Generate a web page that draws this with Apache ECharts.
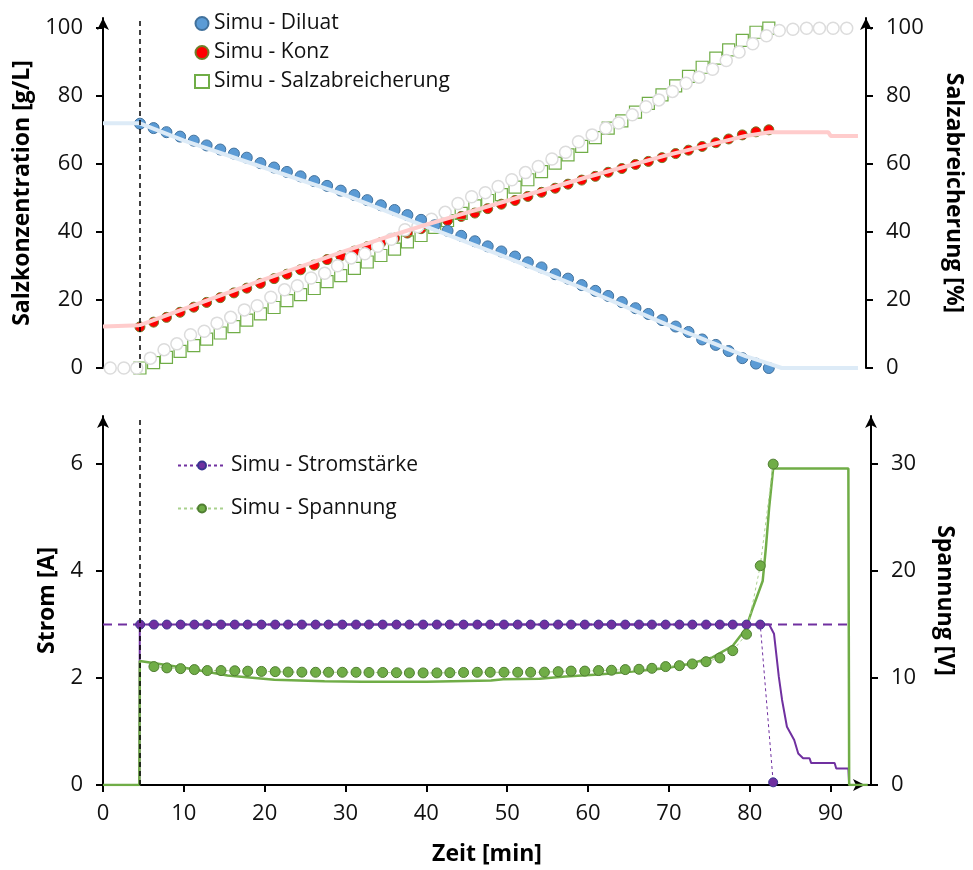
<!DOCTYPE html>
<html>
<head>
<meta charset="utf-8">
<script src="https://cdn.jsdelivr.net/npm/echarts@6/dist/echarts.min.js"></script>
<style>
  body { margin: 0; background: #fff; }
  #main { width: 973px; height: 870px; }
</style>
</head>
<body>
<div id="main"></div>
<script>
// Zeitpunkte der Simulation (alle ~100 s)
var simuTime = [4.6, 6.3, 7.9, 9.6, 11.3, 12.9, 14.6, 16.3, 17.9, 19.6, 21.3, 22.9, 24.6, 26.3, 27.9, 29.6,
  31.3, 32.9, 34.6, 36.3, 37.9, 39.6, 41.3, 42.9, 44.6, 46.3, 47.9, 49.6, 51.3, 52.9, 54.6, 56.3,
  57.9, 59.6, 61.3, 62.9, 64.6, 66.3, 67.9, 69.6, 71.3, 72.9, 74.6, 76.3, 77.9, 79.6, 81.3, 82.9];

var diluatSimu = [71.9, 70.6, 69.4, 68.1, 66.9, 65.5, 64.3, 63.1, 61.9, 60.3, 59.0, 57.7, 56.4, 55.0, 53.6, 52.2,
  50.9, 49.4, 47.9, 46.5, 45.0, 43.6, 42.0, 40.4, 38.9, 37.3, 35.8, 34.3, 32.8, 31.1, 29.6, 27.6,
  26.3, 24.4, 22.7, 21.2, 19.4, 17.6, 15.9, 14.1, 12.2, 10.6, 8.4, 6.8, 5.0, 2.9, 1.3, 0];

var konzSimu = [12.1, 13.5, 14.9, 16.4, 17.9, 19.3, 20.7, 22.1, 23.5, 24.9, 26.3, 27.6, 28.9, 30.3, 31.9, 33.0,
  34.4, 35.7, 36.9, 38.2, 39.7, 41.0, 42.3, 43.4, 44.6, 45.6, 46.9, 48.2, 49.3, 50.5, 51.7, 52.9,
  54.1, 55.3, 56.4, 57.6, 58.7, 59.9, 60.8, 61.9, 63.1, 64.1, 65.2, 66.3, 67.4, 68.6, 69.5, 70.1];

var abreicherungSimu = [0, 1.6, 3.1, 4.9, 6.6, 8.5, 10.3, 12.2, 14.1, 15.9, 17.8, 19.8, 21.6, 23.4, 25.4, 27.2,
  29.3, 31.2, 33.1, 35.0, 37.1, 39.0, 41.4, 43.4, 45.5, 47.7, 49.3, 51.0, 53.2, 55.4, 57.8, 60.3,
  62.7, 65.2, 67.8, 70.6, 72.7, 75.3, 77.9, 80.4, 83.0, 85.8, 88.5, 91.2, 93.6, 96.4, 98.8, 100];

var stromSimu = [3, 3, 3, 3, 3, 3, 3, 3, 3, 3, 3, 3, 3, 3, 3, 3,
  3, 3, 3, 3, 3, 3, 3, 3, 3, 3, 3, 3, 3, 3, 3, 3,
  3, 3, 3, 3, 3, 3, 3, 3, 3, 3, 3, 3, 3, 3, 3, 0.05];

var spannungSimu = ['-', 11.07, 10.95, 10.88, 10.79, 10.70, 10.70, 10.68, 10.64, 10.62, 10.60, 10.56, 10.55, 10.54, 10.54, 10.54,
  10.54, 10.52, 10.52, 10.50, 10.48, 10.48, 10.48, 10.50, 10.52, 10.54, 10.54, 10.54, 10.54, 10.54, 10.55, 10.60,
  10.65, 10.65, 10.70, 10.73, 10.79, 10.82, 10.91, 11.07, 11.16, 11.32, 11.53, 11.88, 12.56, 14.1, 20.5, 30];

// Messwerte
var messTime = [0.9, 2.6, 4.2, 5.9, 7.6, 9.2, 10.9, 12.6, 14.2, 15.9, 17.6, 19.2, 20.9, 22.6, 24.2, 25.9,
  27.6, 29.2, 30.9, 32.6, 34.2, 35.9, 37.6, 39.2, 40.9, 42.6, 44.2, 45.9, 47.6, 49.2, 50.9, 52.6,
  54.2, 55.9, 57.6, 59.2, 60.9, 62.6, 64.2, 65.9, 67.6, 69.2, 70.9, 72.6, 74.2, 75.9, 77.6, 79.2,
  80.9, 82.6, 84.2, 85.9, 87.6, 89.2, 90.9, 92.6];
var abreicherungMess = [0, 0, 0, 2.9, 5.4, 7.1, 9.8, 10.8, 13.2, 14.9, 17.1, 18.3, 20.8, 23.0, 24.2, 26.5,
  27.9, 30.1, 32.4, 33.6, 35.8, 37.9, 40.7, 41.6, 43.8, 45.8, 48.4, 50.4, 51.6, 53.4, 55.4, 57.5,
  59.3, 61.5, 63.5, 66.6, 68.6, 70.6, 72.1, 74.5, 76.9, 78.9, 81.4, 83.8, 85.6, 87.9, 90.5, 93.0,
  95.4, 97.8, 99.3, 99.7, 100, 100, 100, 100];

var diluatMessT = [0, 4.6, 10, 20, 30, 40, 50, 60, 70, 80, 83, 84.5, 94];
var diluatMessV = [72, 72, 67, 59, 51, 41.8, 32.8, 23.2, 13, 3.5, 1.2, 0, 0];

var konzMessT = [0, 4.6, 10, 20, 30, 35, 40, 45, 50, 60, 70, 80, 83, 90.3, 90.6, 94];
var konzMessV = [12.2, 12.6, 17.3, 26, 34.3, 38.3, 42, 45.5, 49, 56, 62.5, 68.3, 69.4, 69.4, 68.3, 68.3];

var spannungMessT = [0, 4.5, 4.55, 6.2, 10.8, 15.4, 21.2, 27.4, 32, 40, 48, 49.5, 54, 57.2, 61.3, 65.5,
  69.6, 72.5, 75.4, 77.9, 79.5, 80.4, 81.6, 82.0, 82.4, 82.9, 92.2, 92.3, 94.6];
var spannungMessV = [0, 0, 11.6, 11.4, 10.86, 10.23, 9.83, 9.7, 9.65, 9.65, 9.77, 9.89, 9.93, 10.14, 10.33, 10.6,
  10.91, 11.32, 11.93, 13.02, 14.58, 16.6, 19.07, 22.2, 25.9, 29.6, 29.6, 0, 0];

var stromMessT = [0, 4.5, 4.55, 82.4, 83, 83.6, 84, 84.6, 85.5, 86, 86.6, 87.4, 87.6, 90.5, 90.7, 92.2, 92.3];
var stromMessV = [0, 0, 3, 3, 2.83, 2.02, 1.59, 1.09, 0.84, 0.59, 0.5, 0.5, 0.41, 0.41, 0.31, 0.31, 0];

var stromSollT = [0, 92.6];
var stromSollV = [3, 3];

var startZeit = 4.6;

// Achsenbeschriftung
var xTicks = [0, 10, 20, 30, 40, 50, 60, 70, 80, 90];
var salzTicks = [0, 20, 40, 60, 80, 100];
var stromTicks = [0, 2, 4, 6];
var spannungTicks = [0, 10, 20, 30];

function pairs(t, v) {
  return t.map(function (x, i) { return [x, v[i]]; });
}

var FONT = 'Open Sans';
var purple = '#7030A0';
var green = '#70AD47';

function yAchse(grid, pos, min, max, ticks, name, gap) {
  return {
    type: 'value', gridIndex: grid, position: pos, min: min, max: max,
    name: name, nameLocation: 'middle', nameGap: gap, nameRotate: pos === 'left' ? 90 : -90,
    nameTextStyle: { fontFamily: FONT, fontSize: 23, fontWeight: 'bold', color: '#000' },
    axisLine: { show: true, onZero: false, lineStyle: { color: '#000', width: 2 }, symbol: ['none', 'arrow'], symbolSize: [9, 12] },
    axisTick: { show: true, length: 7, lineStyle: { color: '#000', width: 2 }, customValues: ticks },
    axisLabel: { fontFamily: FONT, fontSize: 22, color: '#111', margin: 20, customValues: ticks },
    splitLine: { show: false }
  };
}

var myChart = echarts.init(document.getElementById('main'));

var option = {
  animation: false,
  grid: [
    { left: 103, right: 102, top: 18, height: 350 },
    { left: 103, right: 102, top: 416, height: 369 }
  ],
  legend: [
    {
      orient: 'vertical', left: 189, top: 8, itemGap: 8, itemWidth: 14, itemHeight: 13,
      data: ['Simu - Diluat', 'Simu - Konz', 'Simu - Salzabreicherung'],
      textStyle: { fontFamily: FONT, fontSize: 21, color: '#111' }
    },
    {
      orient: 'vertical', left: 172, top: 450, itemGap: 22, itemWidth: 48, itemHeight: 10,
      data: ['Simu - Stromstärke', 'Simu - Spannung'],
      textStyle: { fontFamily: FONT, fontSize: 21, color: '#111' }
    }
  ],
  xAxis: [
    { type: 'value', gridIndex: 0, min: 0, max: 95, show: false },
    {
      type: 'value', gridIndex: 1, min: 0, max: 95,
      name: 'Zeit [min]', nameLocation: 'middle', nameGap: 58,
      nameTextStyle: { fontFamily: FONT, fontSize: 23, fontWeight: 'bold', color: '#000' },
      axisLine: { onZero: false, lineStyle: { color: '#000', width: 2 }, symbol: ['none', 'arrow'], symbolSize: [9, 12], symbolOffset: [0, -6] },
      axisTick: { length: 7, lineStyle: { color: '#000', width: 2 }, customValues: xTicks },
      axisLabel: { fontFamily: FONT, fontSize: 22, color: '#111', margin: 18, customValues: xTicks },
      splitLine: { show: false }
    }
  ],
  yAxis: [
    yAchse(0, 'left', 0, 103, salzTicks, 'Salzkonzentration [g/L]', 66),
    yAchse(0, 'right', 0, 103, salzTicks, 'Salzabreicherung [%]', 76),
    yAchse(1, 'left', 0, 6.9, stromTicks, 'Strom [A]', 44),
    yAchse(1, 'right', 0, 34.5, spannungTicks, 'Spannung [V]', 62)
  ],
  series: [
    {
      name: 'Diluat Messung', type: 'line', xAxisIndex: 0, yAxisIndex: 0,
      data: pairs(diluatMessT, diluatMessV), showSymbol: false,
      lineStyle: { color: '#DDEBF7', width: 4 },
      markLine: {
        silent: true, symbol: 'none', label: { show: false },
        lineStyle: { color: '#000', type: [5, 4], width: 1.5 },
        data: [{ xAxis: startZeit }]
      }
    },
    {
      name: 'Konz Messung', type: 'line', xAxisIndex: 0, yAxisIndex: 0,
      data: pairs(konzMessT, konzMessV), showSymbol: false,
      lineStyle: { color: '#FFCCCC', width: 4 }
    },
    {
      name: 'Simu - Konz', type: 'scatter', xAxisIndex: 0, yAxisIndex: 0,
      data: pairs(simuTime, konzSimu), symbol: 'circle', symbolSize: 10,
      itemStyle: { color: '#FF0000', borderColor: '#6f7f2a', borderWidth: 1, opacity: 1 }
    },
    {
      name: 'Simu - Salzabreicherung', type: 'scatter', xAxisIndex: 0, yAxisIndex: 1,
      data: pairs(simuTime, abreicherungSimu), symbol: 'rect', symbolSize: 12,
      itemStyle: { color: 'rgba(255,255,255,0)', borderColor: green, borderWidth: 1.2, opacity: 1 }
    },
    {
      name: 'Abreicherung Messung', type: 'scatter', xAxisIndex: 0, yAxisIndex: 1,
      data: pairs(messTime, abreicherungMess), symbol: 'circle', symbolSize: 12,
      itemStyle: { color: '#fff', borderColor: '#dcdcdc', borderWidth: 1.5, opacity: 1 }
    },
    {
      name: 'Simu - Diluat', type: 'scatter', xAxisIndex: 0, yAxisIndex: 0,
      data: pairs(simuTime, diluatSimu), symbol: 'circle', symbolSize: 11,
      itemStyle: { color: '#5B9BD5', borderColor: '#41719C', borderWidth: 1, opacity: 1 }
    },
    {
      name: 'Strom Soll', type: 'line', xAxisIndex: 1, yAxisIndex: 2,
      data: pairs(stromSollT, stromSollV), showSymbol: false,
      lineStyle: { color: purple, width: 2, type: [9, 6] },
      markLine: {
        silent: true, symbol: 'none', label: { show: false },
        lineStyle: { color: '#000', type: [5, 4], width: 1.5 },
        data: [{ xAxis: startZeit }]
      }
    },
    {
      name: 'Strom Messung', type: 'line', xAxisIndex: 1, yAxisIndex: 2,
      data: pairs(stromMessT, stromMessV), showSymbol: false,
      lineStyle: { color: purple, width: 2 }
    },
    {
      name: 'Spannung Messung', type: 'line', xAxisIndex: 1, yAxisIndex: 3,
      data: pairs(spannungMessT, spannungMessV), showSymbol: false,
      lineStyle: { color: green, width: 2.5 }
    },
    {
      name: 'Simu - Stromstärke', type: 'line', xAxisIndex: 1, yAxisIndex: 2,
      data: pairs(simuTime, stromSimu), symbol: 'circle', symbolSize: 9, showAllSymbol: true,
      lineStyle: { color: purple, width: 1, type: [3, 3] },
      itemStyle: { color: purple, borderColor: '#3a3590', borderWidth: 1 }
    },
    {
      name: 'Simu - Spannung', type: 'line', xAxisIndex: 1, yAxisIndex: 3,
      data: pairs(simuTime, spannungSimu), symbol: 'circle', symbolSize: 10, showAllSymbol: true,
      lineStyle: { color: '#A9D18E', width: 1, type: [3, 3] },
      itemStyle: { color: green, borderColor: '#507E32', borderWidth: 1 }
    }
  ]
};

myChart.setOption(option);
</script>
</body>
</html>
